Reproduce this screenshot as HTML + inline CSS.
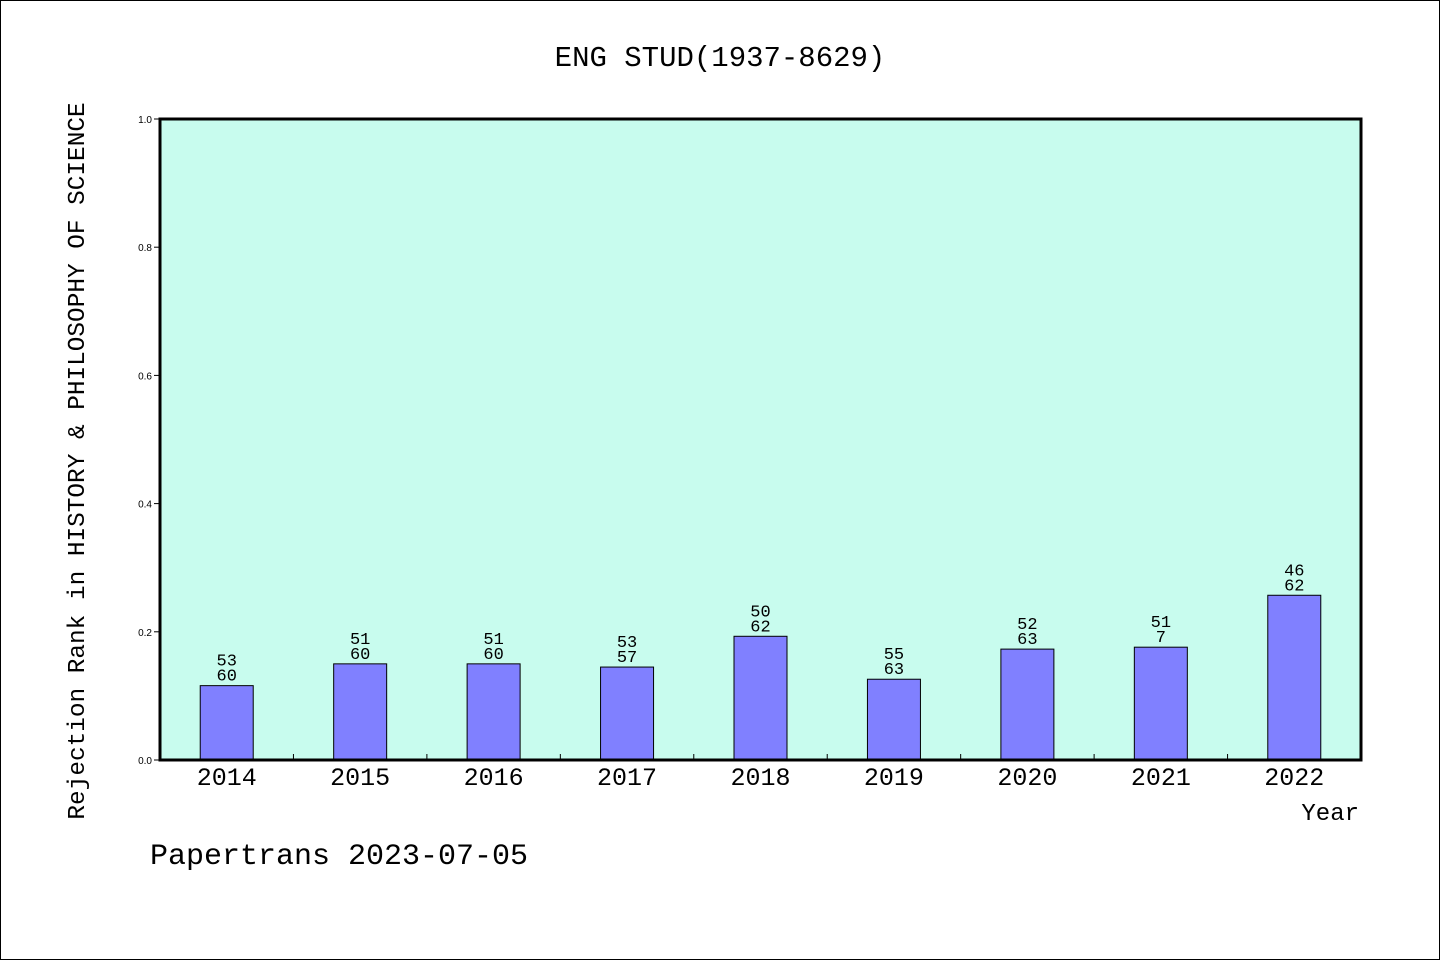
<!DOCTYPE html>
<html><head><meta charset="utf-8"><style>
body{margin:0;background:#fff;}
svg{display:block;font-family:"Liberation Mono","WenQuanYi Zen Hei",monospace;}
</style></head><body>
<svg id="c" width="1440" height="960">
<rect x="0.5" y="0.5" width="1439" height="959" fill="#fff" stroke="#000"/>
<text x="720" y="66" font-size="29" text-anchor="middle">ENG STUD(1937-8629)</text>
<rect x="160" y="119" width="1201" height="641" fill="#c8fcee"/>
<g id="bars"></g>
<rect x="160" y="119" width="1201" height="641" fill="none" stroke="#000" stroke-width="3"/>
<g id="axes"></g>
<text transform="translate(84,461) rotate(-90)" font-size="24.4" text-anchor="middle">Rejection Rank in HISTORY &amp; PHILOSOPHY OF SCIENCE</text>
<text x="1359" y="820" font-size="24" text-anchor="end">Year</text>
<text x="150" y="864" font-size="30">Papertrans 2023-07-05</text>
</svg>
<script>
const years=["2014","2015","2016","2017","2018","2019","2020","2021","2022"];
const values=[0.116,0.150,0.150,0.145,0.193,0.126,0.173,0.176,0.257];
const topLabels=["53","51","51","53","50","55","52","51","46"];
const bottomLabels=["60","60","60","57","62","63","63","7","62"];
const yTicks=[0,0.2,0.4,0.6,0.8,1.0];
const NS="http://www.w3.org/2000/svg";
const X0=160,W=1201,Y0=760,H=641;
const bw=W/years.length;
function xs(i){return X0+bw*(i+0.5);}
function ys(v){return Y0-v*H;}
function mk(t,a,p,txt){const e=document.createElementNS(NS,t);for(const k in a)e.setAttribute(k,a[k]);if(txt!=null)e.textContent=txt;p.appendChild(e);return e;}
const gb=document.getElementById('bars'),ga=document.getElementById('axes');
years.forEach((y,i)=>{
 const cx=xs(i),t=ys(values[i]);
 const r=mk('rect',{x:cx-26.5,y:t,width:53,height:Y0-t,fill:'#8080ff',stroke:'#000','stroke-width':1},gb);
 
 
 const a=mk('text',{x:cx,y:t-20,'font-size':17,'text-anchor':'middle'},gb,topLabels[i]);
 
 
 const b=mk('text',{x:cx,y:t-5,'font-size':17,'text-anchor':'middle'},gb,bottomLabels[i]);
 
 
 const l=mk('text',{x:cx,y:785,'font-size':25,'text-anchor':'middle'},ga,y);
 
 
 if(i>0){const tk=mk('line',{x1:X0+bw*i,x2:X0+bw*i,y1:Y0,y2:Y0-6,stroke:'#000'},ga);
 
 }
});
yTicks.forEach(v=>{
 const y=ys(v);
 const tk=mk('line',{x1:154,x2:160,y1:y,y2:y,stroke:'#000'},ga);
 
 
 const l=mk('text',{x:152,y:y+4,'font-size':10,'text-anchor':'end','font-family':'Liberation Sans'},ga,v.toFixed(1));
 
 
});
</script>
</body></html>
